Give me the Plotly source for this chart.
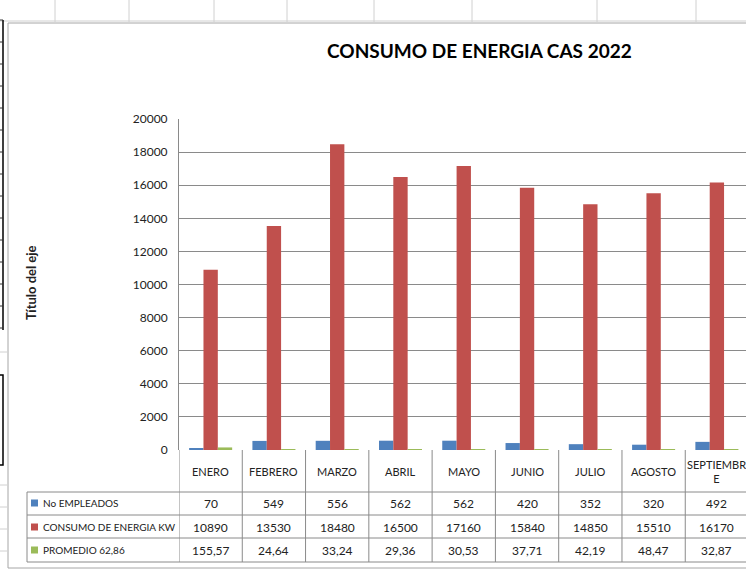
import plotly.graph_objects as go

meses = ["ENERO", "FEBRERO", "MARZO", "ABRIL", "MAYO", "JUNIO", "JULIO", "AGOSTO", "SEPTIEMBRE"]
meses_tabla = ["ENERO", "FEBRERO", "MARZO", "ABRIL", "MAYO", "JUNIO", "JULIO", "AGOSTO", "SEPTIEMBR<br>E"]
empleados = [70, 549, 556, 562, 562, 420, 352, 320, 492]
consumo = [10890, 13530, 18480, 16500, 17160, 15840, 14850, 15510, 16170]
promedio = [155.57, 24.64, 33.24, 29.36, 30.53, 37.71, 42.19, 48.47, 32.87]
y_ticks = [0, 2000, 4000, 6000, 8000, 10000, 12000, 14000, 16000, 18000, 20000]

series = [
    ("No EMPLEADOS", empleados, "#4F81BD", [str(v) for v in empleados]),
    ("CONSUMO DE ENERGIA KW", consumo, "#C0504D", [str(v) for v in consumo]),
    ("PROMEDIO 62,86", promedio, "#9BBB59", [f"{v:.2f}".replace(".", ",") for v in promedio]),
]

W, H = 746, 570
L, R, T, B = 179, 0, 119, 120
PW, PH = W - L - R, H - T - B
FONT = "Lato, Liberation Sans Narrow, sans-serif"


def px(x):
    return (x - L) / PW


def py(y):
    return (H - B - y) / PH


def label(x, y, text, xref="paper", size=12, **kw):
    return dict(x=x, y=y, xref=xref, yref="paper", text=text, showarrow=False,
                xanchor=kw.pop("xanchor", "center"), yanchor="middle",
                font=dict(family=FONT, size=size, color=kw.pop("color", "#222")), **kw)


fig = go.Figure()
for name, vals, color, _ in series:
    fig.add_trace(go.Bar(x=meses, y=vals, name=name, marker=dict(color=color, line=dict(width=0))))

shapes = []
annotations = []
grid_col = "#8a8a8a"

# spreadsheet background
for xv in [55, 129, 214, 287, 374, 472, 597, 696]:
    shapes.append(dict(type="line", xref="paper", yref="paper", x0=px(xv), x1=px(xv), y0=py(0), y1=py(22),
                       line=dict(color="#d0d0d0", width=1)))
shapes.append(dict(type="line", xref="paper", yref="paper", x0=px(0), x1=px(W), y0=py(21), y1=py(21),
                   line=dict(color="#d0d0d0", width=1)))
shapes.append(dict(type="line", xref="paper", yref="paper", x0=px(3), x1=px(3), y0=py(20), y1=py(330),
                   line=dict(color="#000", width=1.5)))
for yv in range(20, 331, 22):
    shapes.append(dict(type="line", xref="paper", yref="paper", x0=px(0), x1=px(3), y0=py(yv), y1=py(yv),
                       line=dict(color="#333", width=1)))
shapes.append(dict(type="rect", xref="paper", yref="paper", x0=px(-5), x1=px(3), y0=py(375), y1=py(465),
                   line=dict(color="#000", width=1.5)))
for yv in [352, 485, 507, 529, 551]:
    shapes.append(dict(type="line", xref="paper", yref="paper", x0=px(0), x1=px(7), y0=py(yv), y1=py(yv),
                       line=dict(color="#d0d0d0", width=1)))

# chart frame
shapes.append(dict(type="rect", xref="paper", yref="paper", x0=px(8), x1=px(W + 5), y0=py(23), y1=py(568),
                   line=dict(color="#a6a6a6", width=1)))

# data table
n = len(meses)
for i in range(n + 1):
    shapes.append(dict(type="line", xref="x", yref="paper", x0=i - 0.5, x1=i - 0.5, y0=py(450), y1=py(562),
                       line=dict(color=grid_col, width=1)))
shapes.append(dict(type="line", xref="paper", yref="paper", x0=px(27), x1=px(27), y0=py(492), y1=py(562),
                   line=dict(color=grid_col, width=1)))
for yv in [492, 515, 538, 562]:
    shapes.append(dict(type="line", xref="paper", yref="paper", x0=px(27), x1=px(W + 5), y0=py(yv), y1=py(yv),
                       line=dict(color=grid_col, width=1)))

for i, m in enumerate(meses_tabla):
    annotations.append(label(i, py(471), m, xref="x", size=11))

row_y = [503, 527, 550]
for (name, vals, color, labels), yv in zip(series, row_y):
    shapes.append(dict(type="rect", xref="paper", yref="paper", x0=px(31), x1=px(38), y0=py(yv - 3.5),
                       y1=py(yv + 3.5), fillcolor=color, line=dict(width=0)))
    annotations.append(label(px(41), py(yv), name, xanchor="left", size=10))
    for i, lab in enumerate(labels):
        annotations.append(label(i, py(yv), lab, xref="x"))

# titles
annotations.append(label(px(479), py(51), "<b>CONSUMO DE ENERGIA CAS 2022</b>", size=19, color="#000"))
annotations.append(label(px(31), py(283), "<b>Título del eje</b>", size=13, textangle=-90))

fig.update_layout(
    width=W, height=H,
    margin=dict(l=L, r=R, t=T, b=B),
    paper_bgcolor="white", plot_bgcolor="white",
    barmode="group", bargap=0.32, bargroupgap=0,
    showlegend=False,
    shapes=shapes, annotations=annotations,
    xaxis=dict(range=[-0.5, 8.46], showticklabels=False, showgrid=False, ticks="",
               showline=False, zeroline=False),
    yaxis=dict(range=[0, 20000], tickvals=y_ticks, tickformat="d", showgrid=True, gridcolor=grid_col,
               gridwidth=1, showline=True, linecolor=grid_col, linewidth=1, zeroline=False, ticks="",
               tickfont=dict(family=FONT, size=12, color="#222"), ticklabelstandoff=8),
)

fig.write_html("out.html", config={"displayModeBar": False},
               post_script="document.body.style.margin='0px';")
